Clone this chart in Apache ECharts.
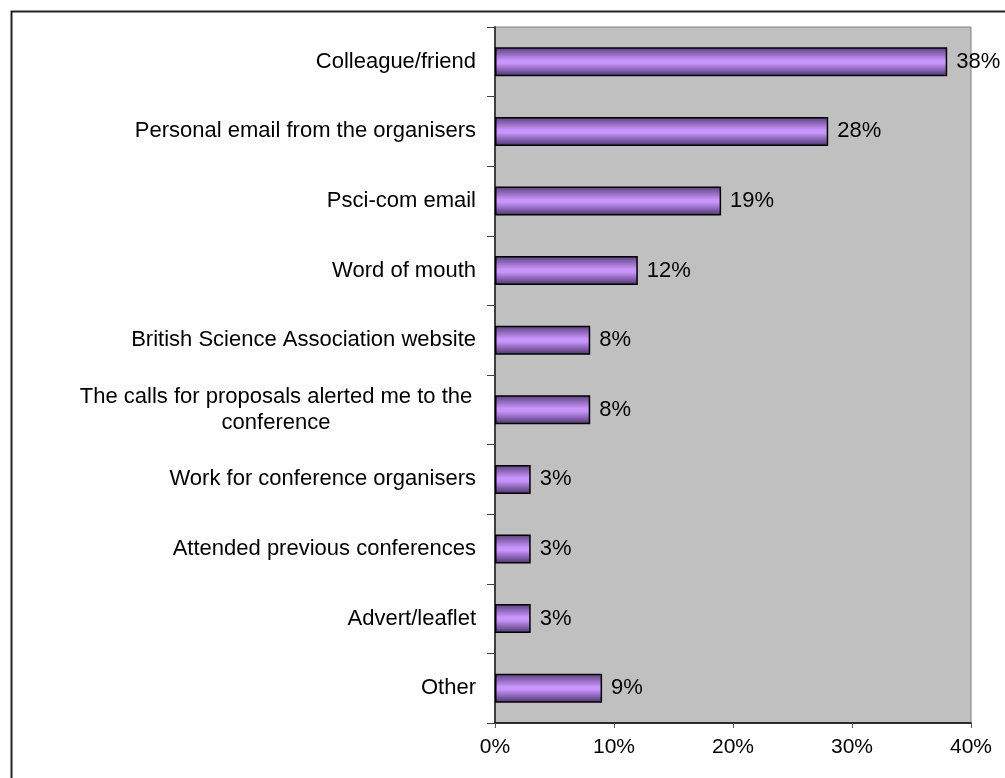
<!DOCTYPE html>
<html>
<head>
<meta charset="utf-8">
<script src="https://cdn.jsdelivr.net/npm/echarts@6/dist/echarts.min.js"></script>
<style>html,body{margin:0;padding:0;background:#fff;}#c{width:1005px;height:778px;}</style>
</head>
<body>
<div id="c"></div>
<script>
const categories = [
  'Colleague/friend',
  'Personal email from the organisers',
  'Psci-com email',
  'Word of mouth',
  'British Science Association website',
  'The calls for proposals alerted me to the\nconference',
  'Work for conference organisers',
  'Attended previous conferences',
  'Advert/leaflet',
  'Other'
];
const values = [38, 28, 19, 12, 8, 8, 3, 3, 3, 9];
const xTicks = [0, 10, 20, 30, 40];

const chart = echarts.init(document.getElementById('c'));
const FONT = '"Liberation Sans", Arial, sans-serif';
chart.setOption({
  animation: false,
  backgroundColor: '#fff',
  graphic: [{
    type: 'rect', left: 9, top: 9, z: 100,
    shape: { x: 0, y: 0, width: 1100, height: 1000 },
    style: { fill: 'none', stroke: '#222', lineWidth: 2 }
  }],
  grid: {
    left: 495, right: 34, top: 27, bottom: 55,
    show: true, backgroundColor: '#c0c0c0', borderColor: '#808080', borderWidth: 1
  },
  xAxis: {
    type: 'value', min: xTicks[0], max: xTicks[xTicks.length - 1], interval: 10,
    splitLine: { show: false },
    axisLine: { show: true, lineStyle: { color: '#000', width: 1.5 } },
    axisTick: { show: true, length: 5, lineStyle: { color: '#555', width: 1 } },
    axisLabel: { formatter: v => v + '%', color: '#000', fontSize: 21, fontFamily: FONT, margin: 14 }
  },
  yAxis: {
    type: 'category', data: categories, inverse: true,
    axisLine: { show: true, lineStyle: { color: '#404040', width: 2 } },
    axisTick: { show: true, length: 8, lineStyle: { color: '#404040', width: 1 } },
    axisLabel: {
      color: '#000', fontSize: 22, fontFamily: FONT, margin: 19,
      formatter: function (v) {
        if (v.indexOf('\n') >= 0) {
          return v.split('\n').map(s => '{c|' + s + '}').join('\n');
        }
        return v;
      },
      rich: { c: { width: 400, align: 'center', fontSize: 22, fontFamily: FONT, color: '#000', lineHeight: 26 } }
    }
  },
  series: [{
    type: 'bar', data: values, barWidth: 29,
    itemStyle: {
      borderColor: '#000', borderWidth: 1.5,
      color: {
        type: 'linear', x: 0, y: 0, x2: 0, y2: 1,
        colorStops: [
          { offset: 0, color: '#5a3f7c' },
          { offset: 0.45, color: '#c995fc' },
          { offset: 0.55, color: '#c995fc' },
          { offset: 1, color: '#4a336a' }
        ]
      }
    },
    label: { show: true, position: 'right', distance: 9, formatter: p => p.value + '%', color: '#000', fontSize: 22, fontFamily: FONT }
  }]
});
</script>
</body>
</html>
